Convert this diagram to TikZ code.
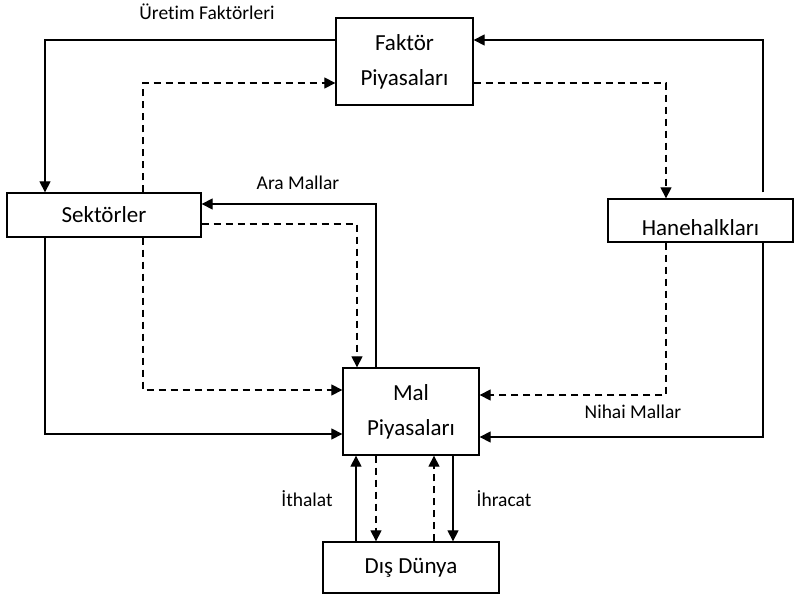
\documentclass[tikz,border=0pt]{standalone}
\usepackage{fontspec}
\setmainfont{Carlito}[Ligatures=NoCommon]
\usetikzlibrary{arrows.meta}
\begin{document}
\begin{tikzpicture}[
        x=1pt, y=-1pt,
        box/.style={draw, line width=1.3pt, align=center, inner sep=0pt,
            font=\fontsize{23}{35}\selectfont},
        lbl/.style={font=\fontsize{19.5}{22}\selectfont},
        flow/.style={line width=1.2pt, -{Triangle[length=11pt, width=11pt]}},
        money/.style={flow, dash pattern=on 7pt off 5pt}
    ]
        \useasboundingbox (0,0) rectangle (795,596);

        % Boxes
        \node[box, minimum width=137pt, minimum height=87pt] (faktor) at (404.5,61.5) {Faktör\\Piyasaları};
        \node[box, minimum width=194pt, minimum height=44pt] (sektor) at (104,215) {Sektörler};
        \node[box, minimum width=185pt, minimum height=43pt] (hane) at (700.5,220.5) {\raisebox{-7pt}[\height][\depth]{Hanehalkları}};
        \node[box, minimum width=136pt, minimum height=87pt] (mal) at (411,411.5) {Mal\\Piyasaları};
        \node[box, minimum width=176pt, minimum height=51pt] (dis) at (411,567.5) {Dış Dünya};

        % Corner points
        \coordinate (ul) at (45,40);
        \coordinate (dl) at (143,83);
        \coordinate (ur) at (763,40);
        \coordinate (dr) at (666,83);
        \coordinate (ara) at (376,204);
        \coordinate (sd) at (357,224);
        \coordinate (sb) at (143,390);
        \coordinate (sa) at (45,434);
        \coordinate (nd) at (666,395);
        \coordinate (ns) at (763,437);

        % Top loop
        \draw[flow] (faktor.west |- ul) -| (sektor.north -| ul);
        \draw[money] (sektor.north -| dl) |- (faktor.west |- dl);
        \draw[flow, shorten <=6pt] (hane.north -| ur) |- (faktor.east |- ur);
        \draw[money] (faktor.east |- dr) -| (hane.north -| dr);

        % Sectors and households to goods markets
        \draw[flow] (mal.north -| ara) |- (sektor.east |- ara);
        \draw[money] (sektor.east |- sd) -| (mal.north -| sd);
        \draw[money] (sektor.south -| sb) |- (mal.west |- sb);
        \draw[flow] (sektor.south -| sa) |- (mal.west |- sa);
        \draw[money] (hane.south -| nd) |- (mal.east |- nd);
        \draw[flow] (hane.south -| ns) |- (mal.east |- ns);

        % Foreign trade
        \coordinate (x1) at (356,0);
        \coordinate (x2) at (376,0);
        \coordinate (x3) at (434,0);
        \coordinate (x4) at (453,0);
        \draw[flow] (dis.north -| x1) -- (mal.south -| x1);
        \draw[money] (mal.south -| x2) -- (dis.north -| x2);
        \draw[money] (dis.north -| x3) -- (mal.south -| x3);
        \draw[flow] (mal.south -| x4) -- (dis.north -| x4);

        % Labels
        \node[lbl] (uretim) at (207,12) {Üretim Faktörleri};
        \node[lbl] (aramal) at (298,183) {Ara Mallar};
        \node[lbl] (nihai) at (633,412) {Nihai Mallar};
        \node[lbl] (ithal) at (307,499) {İthalat};
        \node[lbl] (ihrac) at (504,499) {İhracat};
    \end{tikzpicture}
\end{document}
